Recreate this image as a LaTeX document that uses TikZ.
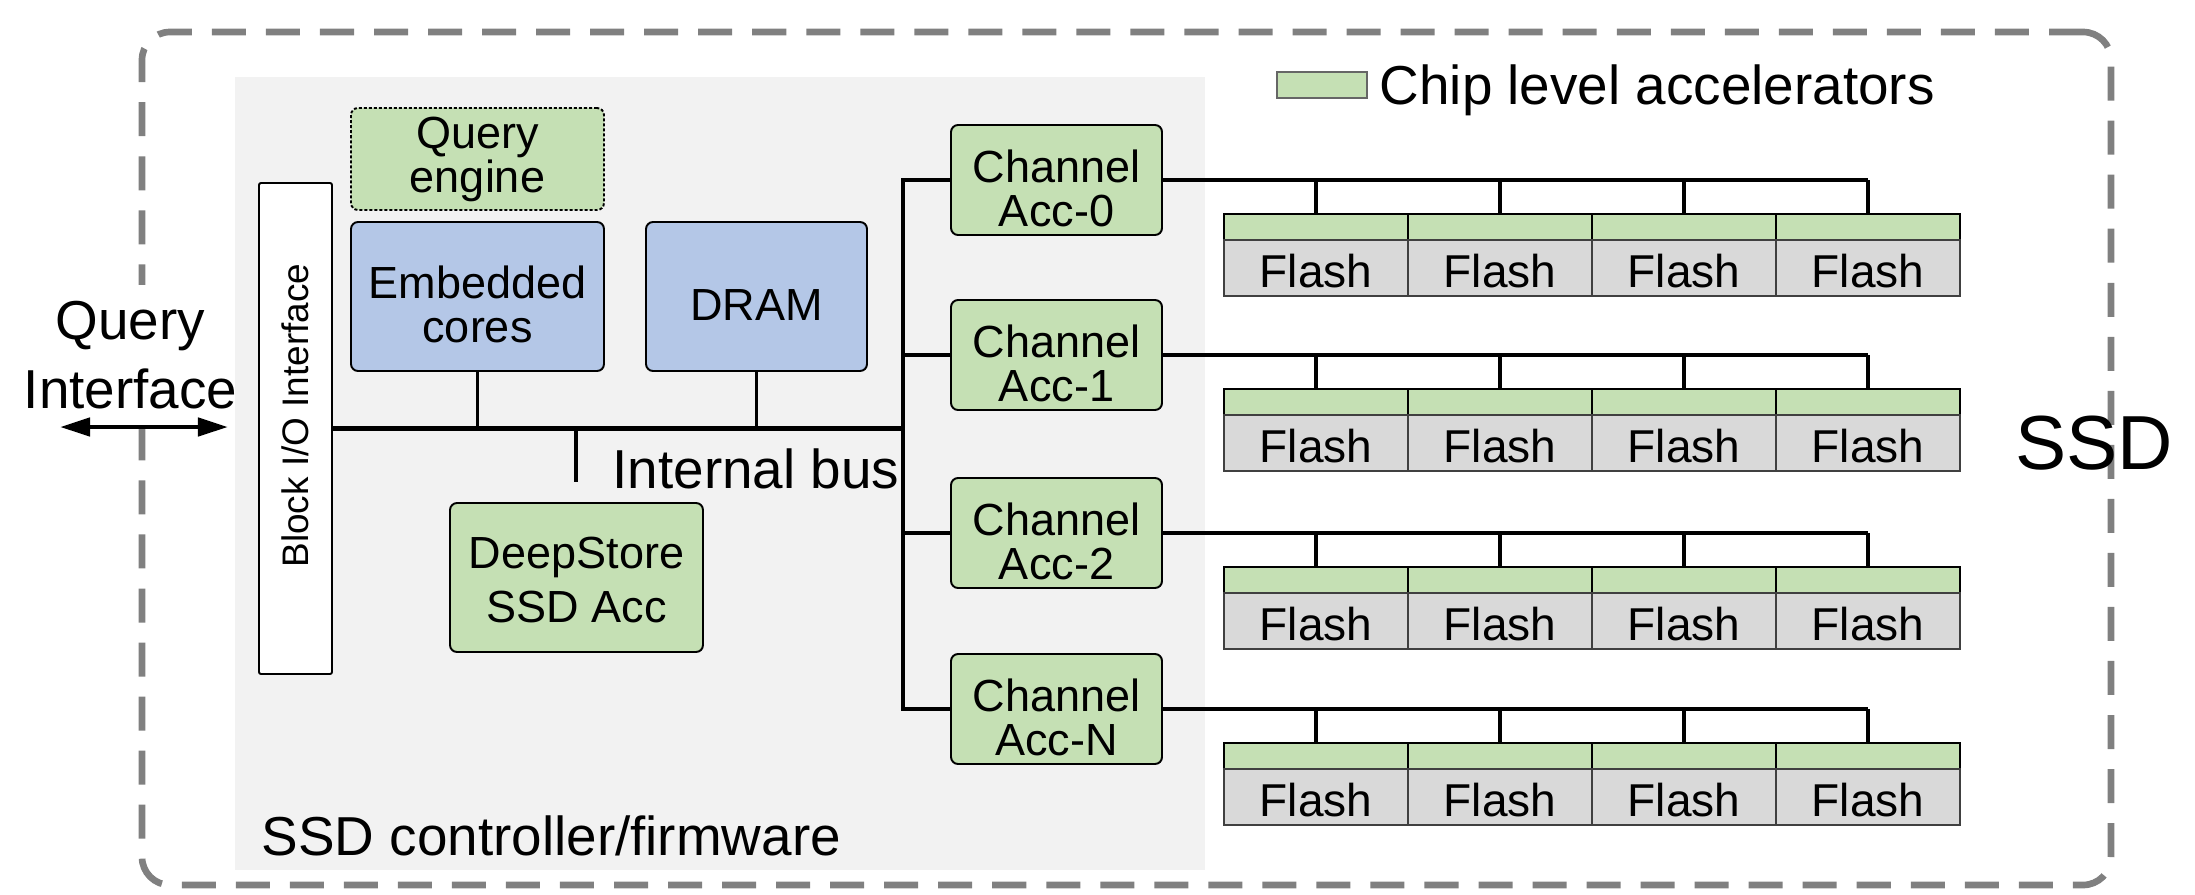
\documentclass[tikz,border=0pt]{standalone}
\usepackage{fontspec}
\setmainfont{Liberation Sans}
\usetikzlibrary{fit,arrows.meta}

\definecolor{accgreen}{HTML}{C5E0B4}
\definecolor{coreblue}{HTML}{B4C7E7}
\definecolor{panelgray}{HTML}{F2F2F2}
\definecolor{flashgray}{HTML}{D9D9D9}
\definecolor{framegray}{HTML}{808080}

\newcommand\bigtxt{\fontsize{15.6}{19.6}\selectfont}
\newcommand\boxtxt{\fontsize{12.8}{12.5}\selectfont}
\newcommand\dstxt{\fontsize{12.8}{15.4}\selectfont}
\newcommand\flashtxt{\fontsize{13.1}{14}\selectfont}
\newcommand\iotxt{\fontsize{10.5}{12}\selectfont}
\newcommand\ssdtxt{\fontsize{21.8}{24}\selectfont}

\begin{document}
\begin{tikzpicture}[x=0.01cm, y=-0.01cm,
  area/.style={inner sep=0pt, outer sep=0pt},
  ssdframe/.style={area, draw=framegray, line width=1.9pt,
    dash pattern=on 0.34cm off 0.2cm, rounded corners=0.28cm},
  blk/.style={area, draw=black, line width=0.55pt, rounded corners=0.07cm},
  greenblk/.style={blk, fill=accgreen},
  blueblk/.style={blk, fill=coreblue},
  lbl/.style={inner sep=0pt, align=center, font=\boxtxt, yshift=-0.08cm},
  wire/.style={line width=1.05pt},
  buswire/.style={line width=1.35pt},
  chip/.style={area, draw=black, line width=0.45pt, fill=accgreen},
  flashcell/.style={area, draw=black!75, line width=0.45pt, fill=flashgray},
  bigtext/.style={inner sep=0pt, font=\bigtxt}
]
\useasboundingbox (0,0) rectangle (2195,894);

% SSD enclosure
\node[ssdframe, fit={(142,32)(2111,885)}] (ssd) {};
\node[inner sep=0pt, font=\ssdtxt] (ssdlbl) at (2094,443) {SSD};

% host side
\node[area, fill=white, fit={(26,285)(235,425)},
  label={[name=qitxt, inner sep=0pt, align=center, font=\bigtxt]center:Query\\Interface}] (qi) {};
\coordinate (qa) at (60,427);
\coordinate (qb) at (228,427);
\draw[line width=1.35pt, {Triangle[length=0.3cm,width=0.18cm]}-{Triangle[length=0.3cm,width=0.18cm]}] (qa) -- (qb);

% controller panel
\node[area, fill=panelgray, fit={(235,77)(1205,870)}] (ctrl) {};
\node[bigtext, anchor=base west] (ctrllbl) at (261,855) {SSD controller/firmware};

\node[blk, fill=white, rounded corners=0.02cm, fit={(259,183)(332,674)},
  label={[name=iotxt, inner sep=0pt, font=\iotxt, yshift=0.13cm, rotate=90]center:Block I/O Interface}] (io) {};

\node[greenblk, dash pattern=on 0.03cm off 0.02cm, fit={(351,108)(604,210)},
  label={[name=qetxt, lbl, yshift=0.08cm]center:Query\\engine}] (qe) {};
\node[blueblk, fit={(351,222)(604,371)},
  label={[name=embtxt, lbl]center:Embedded\\cores}] (emb) {};
\node[blueblk, fit={(646,222)(867,371)},
  label={[name=dramtxt, lbl, yshift=-0.005cm]center:DRAM}] (dram) {};
\node[greenblk, fit={(450,503)(703,652)},
  label={[name=dstxt, lbl, font=\dstxt, yshift=0.055cm]center:DeepStore\\SSD Acc}] (ds) {};

% internal bus
\coordinate (tx) at (903,0);
\coordinate (dsstub) at (576,482);
\draw[buswire] (io.east) -- (io.east -| tx);
\draw[wire] (emb.south) -- (emb.south |- io.east);
\draw[wire] (dram.south) -- (dram.south |- io.east);
\draw[wire] (io.east -| dsstub) -- (dsstub);
\node[bigtext, anchor=base west] (buslbl) at (612,488) {Internal bus};

% channel accelerators and flash chips
\foreach \n/\y/\c in {0/180/0, 1/355/1, 2/533/2, 3/709/N} {
  \node[greenblk, fit={(951,\y-55)(1162,\y+55)},
    label={[name=chtxt\n, lbl]center:Channel\\Acc-\c}] (ch\n) {};
  \foreach \k in {0,...,3} {
    \node[chip, fit={(1224+184*\k,\y+34)(1408+184*\k,\y+60)}] (chip-\n-\k) {};
    \node[flashcell, fit={(1224+184*\k,\y+60)(1408+184*\k,\y+116)},
      label={[name=fltxt-\n-\k, inner sep=0pt, font=\flashtxt, yshift=-0.03cm]center:Flash}] (fl-\n-\k) {};
    \draw[wire] (chip-\n-\k.north) -- (chip-\n-\k.north |- ch\n.east);
  }
  \draw[buswire] (ch\n.east) -- (ch\n.east -| chip-\n-3.north);
}
\draw[buswire] (ch0.west) -- (ch0.west -| tx) -- (ch3.west -| tx) -- (ch3.west);
\draw[buswire] (ch1.west -| tx) -- (ch1.west);
\draw[buswire] (ch2.west -| tx) -- (ch2.west);

% legend
\node[area, fill=accgreen, draw=black!60, line width=0.45pt, fit={(1277,72)(1367,98)}] (legsw) {};
\node[bigtext, anchor=base west] (legtxt) at (1379,105) {Chip level accelerators};
\end{tikzpicture}
\end{document}
